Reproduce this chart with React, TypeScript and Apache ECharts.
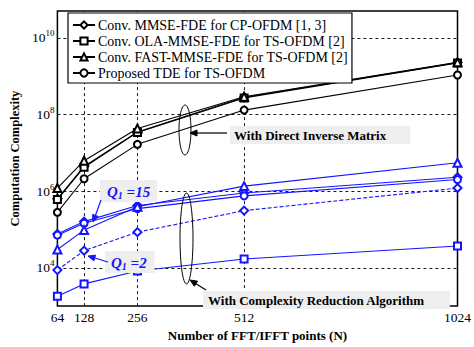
import React, { useEffect, useRef } from 'react';
import * as echarts from 'echarts';

const fftPoints = [64, 128, 256, 512, 1024];
const xTicks = [64, 128, 256, 512, 1024];
const yGridValues = [1e4, 1e6, 1e8, 1e10];
const xGridValues = [128, 256, 512];

const legendNames = [
  'Conv. MMSE-FDE for CP-OFDM [1, 3]',
  'Conv. OLA-MMSE-FDE for TS-OFDM [2]',
  'Conv. FAST-MMSE-FDE for TS-OFDM [2]',
  'Proposed TDE for TS-OFDM',
];

// With direct inverse matrix (black)
const directMmse = [6.3e5, 4.4e6, 3.5e7, 2.8e8, 2.25e9];
const directOla = [6.0e5, 4.2e6, 3.4e7, 2.7e8, 2.2e9];
const directFast = [1.2e6, 6.2e6, 4.3e7, 2.9e8, 2.3e9];
const directTde = [2.8e5, 2.1e6, 1.66e7, 1.3e8, 1.07e9];

// With complexity reduction algorithm (blue)
const reducedMmse = [7.6e4, 1.6e5, 4.2e5, 8.9e5, 2.3e6];
const reducedTde = [7.1e4, 1.45e5, 3.5e5, 7.5e5, 2.0e6];
const reducedFast = [3.0e4, 9.6e4, 3.9e5, 1.35e6, 5.5e6];
const reducedMmseQ2 = [8.7e3, 2.8e4, 8.5e4, 3.1e5, 1.2e6];
const reducedOla = [1.8e3, 3.8e3, 8.2e3, 1.7e4, 3.7e4];

const FONT = 'Liberation Serif';
const BLUE = '#1414ff';

function arrow(x1: number, y1: number, x2: number, y2: number, color: string) {
  const ang = Math.atan2(y2 - y1, x2 - x1);
  const len = 7;
  const w = 3;
  const bx = x2 - len * Math.cos(ang);
  const by = y2 - len * Math.sin(ang);
  const px = -Math.sin(ang) * w;
  const py = Math.cos(ang) * w;
  return [
    { type: 'line', shape: { x1, y1, x2: bx, y2: by }, style: { stroke: color, lineWidth: 1.2 }, z: 100 },
    {
      type: 'polygon',
      shape: { points: [[x2, y2], [bx + px, by + py], [bx - px, by - py]] },
      style: { fill: color, stroke: color },
      z: 100,
    },
  ];
}

function pair(d: number[]) {
  return fftPoints.map((x, i) => [x, d[i]]);
}

export default function App() {
  const ref = useRef<HTMLDivElement>(null);
  useEffect(() => {
    document.body.style.margin = '0';
    if (!ref.current) return;
    const chart = echarts.init(ref.current, undefined, { renderer: 'svg' });
    const mk = (name: string, data: number[], symbol: string, color: string, dashed = false, size = 7) => ({
      name,
      type: 'line',
      data: pair(data),
      symbol,
      symbolSize: size,
      lineStyle: { color, width: 1.1, type: dashed ? [4, 2] : 'solid' },
      itemStyle: { color, borderColor: color, borderWidth: 1 },
      z: 5,
    });
    const series: any[] = [
      {
        ...mk(legendNames[0], directMmse, 'emptyDiamond', '#000', false, 8),
        markLine: {
          silent: true,
          symbol: ['none', 'none'],
          label: { show: false },
          lineStyle: { color: '#000', type: [3, 3], width: 0.9 },
          data: [
            ...xGridValues.map((v) => ({ xAxis: v })),
            ...yGridValues.map((v) => ({ yAxis: v })),
          ],
          z: 1,
        },
      },
      mk(legendNames[1], directOla, 'emptyRect', '#000'),
      mk(legendNames[2], directFast, 'emptyTriangle', '#000', false, 8),
      mk(legendNames[3], directTde, 'emptyCircle', '#000'),
      mk('r-mmse', reducedMmse, 'emptyDiamond', BLUE, false, 8),
      mk('r-tde', reducedTde, 'emptyCircle', BLUE),
      mk('r-fast', reducedFast, 'emptyTriangle', BLUE, false, 8),
      mk('r-mmse-q2', reducedMmseQ2, 'emptyDiamond', BLUE, true, 8),
      mk('r-ola', reducedOla, 'emptyRect', BLUE),
    ];

    const qRich = {
      q: { font: `italic bold 15px "${FONT}"`, fill: BLUE },
      s: { font: `italic bold 10px "${FONT}"`, fill: BLUE, padding: [7, 0, 0, 0] },
    };

    const graphic: any[] = [
      // Direct inverse annotation
      {
        type: 'ellipse',
        shape: { cx: 185, cy: 130, rx: 6, ry: 25 },
        style: { fill: 'none', stroke: '#000', lineWidth: 1 },
        z: 100,
      },
      ...arrow(227, 133, 190, 133, '#000'),
      {
        type: 'text',
        x: 230,
        y: 126,
        style: {
          text: 'With Direct Inverse Matrix',
          font: `bold 13px "${FONT}"`,
          fill: '#000',
          backgroundColor: '#eeeeee',
          padding: [3, 24, 2, 4],
        },
        z: 100,
      },
      // Reduction annotation
      {
        type: 'ellipse',
        shape: { cx: 186.5, cy: 238.5, rx: 6.5, ry: 45.5 },
        style: { fill: 'none', stroke: '#000', lineWidth: 1 },
        z: 100,
      },
      ...arrow(206, 290, 190, 280, '#000'),
      {
        type: 'text',
        x: 203,
        y: 291,
        style: {
          text: 'With Complexity Reduction Algorithm',
          font: `bold 13px "${FONT}"`,
          fill: '#000',
          backgroundColor: '#eeeeee',
          padding: [3, 25, 2, 5],
        },
        z: 100,
      },
      // Q1 = 15
      {
        type: 'text',
        x: 100,
        y: 180,
        style: {
          text: '{q|Q}{s|1}{q| =15}',
          backgroundColor: '#eeeeee',
          padding: [3, 7, 2, 7],
          rich: qRich,
        },
        z: 100,
      },
      ...arrow(101, 200, 93, 222, BLUE),
      // Q1 = 2
      {
        type: 'text',
        x: 105,
        y: 251,
        style: {
          text: '{q|Q}{s|1}{q| =2}',
          backgroundColor: '#eeeeee',
          padding: [3, 8, 2, 6],
          rich: qRich,
        },
        z: 100,
      },
      ...arrow(108, 262, 88, 256, BLUE),
    ];

    chart.setOption({
      animation: false,
      backgroundColor: '#fff',
      textStyle: { fontFamily: FONT },
      grid: {
        left: 53,
        right: 12,
        top: 11,
        bottom: 33,
        show: true,
        borderColor: '#000',
        borderWidth: 1.5,
        backgroundColor: 'transparent',
      },
      legend: {
        data: legendNames,
        orient: 'vertical',
        left: 68,
        top: 13,
        backgroundColor: '#fff',
        borderColor: '#000',
        borderWidth: 1.2,
        padding: [4, 4, 2, 4],
        itemWidth: 22,
        itemHeight: 9,
        itemGap: 0,
        selectedMode: false,
        textStyle: { fontFamily: FONT, fontSize: 14, lineHeight: 16, color: '#000', padding: [0, 0, 0, -2] },
        z: 50,
      },
      xAxis: {
        type: 'value',
        min: 64,
        max: 1024,
        name: 'Number of FFT/IFFT points (N)',
        nameLocation: 'middle',
        nameGap: 16,
        nameTextStyle: { fontFamily: FONT, fontWeight: 'bold', fontSize: 13, color: '#000' },
        axisLine: { show: false },
        axisTick: { show: false },
        splitLine: { show: false },
        axisLabel: {
          customValues: xTicks,
          formatter: (v: number) => String(v),
          fontFamily: FONT,
          fontSize: 13.5,
          color: '#000',
          margin: 4,
        },
      },
      yAxis: {
        type: 'log',
        logBase: 10,
        min: 1000,
        max: 5e10,
        name: 'Computation Complexity',
        nameLocation: 'middle',
        nameGap: 35,
        nameTextStyle: { fontFamily: FONT, fontWeight: 'bold', fontSize: 12.5, color: '#000' },
        axisLine: { show: false },
        axisTick: { show: false },
        splitLine: { show: false },
        axisLabel: {
          margin: 3,
          formatter: (v: number) => {
            const l = Math.log10(v);
            const e = Math.round(l);
            if (Math.abs(l - e) > 1e-6 || e % 2 !== 0) return '';
            return `{b|10}{s|${e}}`;
          },
          rich: {
            b: { fontFamily: FONT, fontSize: 13.5, color: '#000' },
            s: { fontFamily: FONT, fontSize: 9, color: '#000', padding: [0, 0, 9, 0] },
          },
        },
      },
      series,
      graphic,
    });
    return () => chart.dispose();
  }, []);
  return <div ref={ref} style={{ width: 474, height: 347 }} />;
}
